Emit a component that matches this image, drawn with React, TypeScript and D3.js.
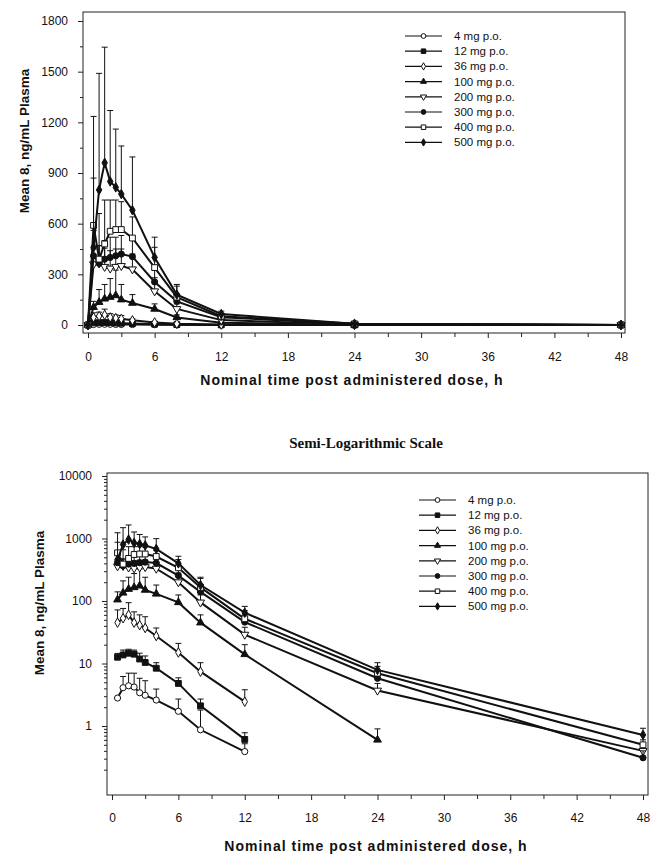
import React, { useEffect, useRef } from 'react';
import * as d3 from 'd3';

// nominal sampling times, h
const times = [0.5, 1, 1.5, 2, 2.5, 3, 4, 6, 8, 12, 24, 48];

const doseLabels = ['4 mg p.o.', '12 mg p.o.', '36 mg p.o.', '100 mg p.o.', '200 mg p.o.', '300 mg p.o.', '400 mg p.o.', '500 mg p.o.'];

// mean plasma conc, ng/mL (null = not reported)
const mean4 = [2.8, 4.1, 4.4, 4.2, 3.4, 3.1, 2.6, 1.72, 0.87, 0.39, null, null];
const mean12 = [12.6, 13.7, 14.6, 14.1, 11.8, 10.4, 8.4, 4.8, 2.1, 0.61, null, null];
const mean36 = [45, 53, 60, 45, 41, 37, 27.5, 15, 7.4, 2.45, null, null];
const mean100 = [105, 135, 155, 165, 175, 150, 130, 95, 45, 14, 0.6, null];
const mean200 = [360, 365, 345, 335, 345, 350, 330, 200, 95, 29, 3.7, 0.4];
const mean300 = [410, 365, 390, 400, 410, 420, 405, 255, 140, 46, 5.8, 0.31];
const mean400 = [590, 390, 480, 555, 565, 565, 515, 340, 165, 52, 7.0, 0.5];
const mean500 = [460, 800, 960, 850, 815, 775, 680, 400, 180, 65, 7.9, 0.72];

// top of error bar (mean + SD)
const upper4 = [null, 6.2, 7.0, 7.0, 5.8, 5.3, 3.9, 2.7, 1.8, 0.52, null, null];
const upper12 = [14.5, 16.4, 16.9, 16.4, 14.6, 13.2, 10.3, 5.9, 2.7, 0.78, null, null];
const upper36 = [72, 76, 94, 67, 60, 56, 37, 21, 10.3, 3.8, null, null];
const upper100 = [140, 210, 240, 275, 325, 240, 180, 125, 60, 20, 0.9, null];
const upper200 = [450, 470, 455, 440, 450, 450, 420, 280, 125, 38, 4.8, 0.5];
const upper300 = [560, 470, 500, 520, 520, 530, 520, 330, 185, 60, 7.5, 0.4];
const upper400 = [870, 660, 740, 740, 740, 730, 640, 460, 230, 70, 9, 0.6];
const upper500 = [1235, 1490, 1645, 1270, 1160, 1060, 995, 520, 240, 82, 10.3, 0.92];

const linTicks = [0, 300, 600, 900, 1200, 1500, 1800];
const logTicks = [1, 10, 100, 1000, 10000];
const timeTicks = [0, 6, 12, 18, 24, 30, 36, 42, 48];

const means = [mean4, mean12, mean36, mean100, mean200, mean300, mean400, mean500];
const uppers = [upper4, upper12, upper36, upper100, upper200, upper300, upper400, upper500];

// marker per dose: shape, filled, rotate, symbol area
const markers = [
  { type: d3.symbolCircle, fill: false, rot: 0, size: 30 },
  { type: d3.symbolSquare, fill: true, rot: 0, size: 34 },
  { type: d3.symbolDiamond, fill: false, rot: 0, size: 26 },
  { type: d3.symbolTriangle, fill: true, rot: 0, size: 26 },
  { type: d3.symbolTriangle, fill: false, rot: 180, size: 28 },
  { type: d3.symbolCircle, fill: true, rot: 0, size: 30 },
  { type: d3.symbolSquare, fill: false, rot: 0, size: 34 },
  { type: d3.symbolDiamond, fill: true, rot: 0, size: 26 },
];

const font = '"Liberation Sans", Arial, sans-serif';

const App = () => {
  const svgRef = useRef(null);

  useEffect(() => {
    const svg = d3.select(svgRef.current);
    svg.selectAll('*').remove();

    const drawPanel = (opts) => {
      const { x, y, left, right, top, bottom, isLog } = opts;
      const g = svg.append('g');

      // frame
      g.append('rect')
        .attr('x', left).attr('y', top)
        .attr('width', right - left).attr('height', bottom - top)
        .attr('fill', 'none').attr('stroke', '#222').attr('stroke-width', 1);

      // x axis
      const xMinor = d3.range(3, 48, 6);
      g.append('g')
        .attr('transform', `translate(0,${bottom})`)
        .call(d3.axisBottom(x).tickValues(xMinor).tickSize(4).tickFormat(() => ''));
      const xa = g.append('g')
        .attr('transform', `translate(0,${bottom})`)
        .call(d3.axisBottom(x).tickValues(timeTicks).tickSize(5).tickPadding(opts.xPad));
      xa.selectAll('text').attr('font-size', 12).attr('font-family', font).attr('fill', '#111');

      // y axis
      let yMinor;
      if (isLog) {
        yMinor = [];
        [0.1, 1, 10, 100, 1000].forEach(d => {
          for (let k = 2; k <= 9; k++) yMinor.push(d * k);
        });
      } else {
        yMinor = d3.range(150, 1800, 300);
      }
      g.append('g')
        .attr('transform', `translate(${left},0)`)
        .call(d3.axisLeft(y).tickValues(yMinor).tickSize(3).tickFormat(() => ''));
      const ya = g.append('g')
        .attr('transform', `translate(${left},0)`)
        .call(d3.axisLeft(y).tickValues(isLog ? logTicks : linTicks).tickSize(5).tickPadding(10).tickFormat(d3.format('d')));
      ya.selectAll('text').attr('font-size', 12).attr('font-family', font).attr('fill', '#111');

      g.selectAll('.domain').remove();
      g.selectAll('.tick line').attr('stroke', '#222');

      // titles
      g.append('text')
        .attr('x', opts.xTitleX).attr('y', opts.xTitleY)
        .attr('text-anchor', 'middle')
        .attr('font-family', font).attr('font-weight', 'bold').attr('font-size', 14)
        .attr('letter-spacing', 1)
        .attr('fill', '#111')
        .text('Nominal time post administered dose, h');
      g.append('text')
        .attr('transform', `translate(${opts.yTitleX},${opts.yTitleY}) rotate(-90)`)
        .attr('text-anchor', 'middle')
        .attr('font-family', font).attr('font-weight', 'bold').attr('font-size', 13.5)
        .attr('fill', '#111')
        .text('Mean  8, ng/mL Plasma');

      // series
      means.forEach((m, i) => {
        let pts = times.map((t, j) => ({ t, v: m[j], u: uppers[i][j] }));
        if (isLog) {
          pts = pts.filter(p => p.v != null);
        } else {
          pts = [{ t: 0, v: 0, u: null }].concat(pts.map(p => (p.v == null ? { t: p.t, v: 0, u: null } : p)));
        }
        const sg = g.append('g');
        // error bars (upper)
        pts.filter(p => p.u != null).forEach(p => {
          const px = x(p.t);
          sg.append('line')
            .attr('x1', px).attr('x2', px)
            .attr('y1', y(p.v)).attr('y2', y(p.u))
            .attr('stroke', '#111').attr('stroke-width', 1);
          sg.append('line')
            .attr('x1', px - 3).attr('x2', px + 3)
            .attr('y1', y(p.u)).attr('y2', y(p.u))
            .attr('stroke', '#111').attr('stroke-width', 1);
        });
        const line = d3.line().x(p => x(p.t)).y(p => y(p.v));
        sg.append('path')
          .attr('d', line(pts))
          .attr('fill', 'none').attr('stroke', '#111').attr('stroke-width', 2);
        const mk = markers[i];
        const sym = d3.symbol().type(mk.type).size(mk.size);
        sg.selectAll('path.mk')
          .data(pts)
          .enter()
          .append('path')
          .attr('class', 'mk')
          .attr('d', sym)
          .attr('transform', p => `translate(${x(p.t)},${y(p.v)}) rotate(${mk.rot})`)
          .attr('fill', mk.fill ? '#111' : '#fff')
          .attr('stroke', '#111').attr('stroke-width', 1);
      });

      // legend
      const lg = g.append('g');
      doseLabels.forEach((lab, i) => {
        const ly = opts.legY + i * 15.2;
        lg.append('line')
          .attr('x1', opts.legX).attr('x2', opts.legX + 37)
          .attr('y1', ly).attr('y2', ly)
          .attr('stroke', '#111').attr('stroke-width', 1.2);
        const mk = markers[i];
        lg.append('path')
          .attr('d', d3.symbol().type(mk.type).size(mk.size * 0.6))
          .attr('transform', `translate(${opts.legX + 18.5},${ly}) rotate(${mk.rot})`)
          .attr('fill', mk.fill ? '#111' : '#fff')
          .attr('stroke', '#111').attr('stroke-width', 1);
        lg.append('text')
          .attr('x', opts.legX + 49).attr('y', ly + 4)
          .attr('font-family', font).attr('font-size', 11.5).attr('fill', '#111')
          .text(lab);
      });
    };

    // linear panel
    drawPanel({
      x: d3.scaleLinear().domain([0, 48]).range([88, 621]),
      y: d3.scaleLinear().domain([0, 1800]).range([325, 21]),
      left: 83, right: 625, top: 12, bottom: 333,
      isLog: false, xPad: 14,
      xTitleX: 352, xTitleY: 385,
      yTitleX: 29, yTitleY: 141,
      legX: 405, legY: 36,
    });

    // semi-log panel
    drawPanel({
      x: d3.scaleLinear().domain([0, 48]).range([112, 643]),
      y: d3.scaleLog().domain([1, 10000]).range([726, 476]),
      left: 107, right: 648, top: 473, bottom: 795,
      isLog: true, xPad: 13.5,
      xTitleX: 376, xTitleY: 851,
      yTitleX: 44, yTitleY: 603,
      legX: 419, legY: 500,
    });

    svg.append('text')
      .attr('x', 366).attr('y', 448)
      .attr('text-anchor', 'middle')
      .attr('font-family', '"Liberation Serif", "Times New Roman", serif')
      .attr('font-weight', 'bold').attr('font-size', 15)
      .attr('fill', '#111')
      .text('Semi-Logarithmic Scale');
  }, []);

  return (
    <svg
      ref={svgRef}
      width={651}
      height={854}
      style={{ position: 'absolute', left: 0, top: 0, background: '#fff' }}
    />
  );
};

export default App;
